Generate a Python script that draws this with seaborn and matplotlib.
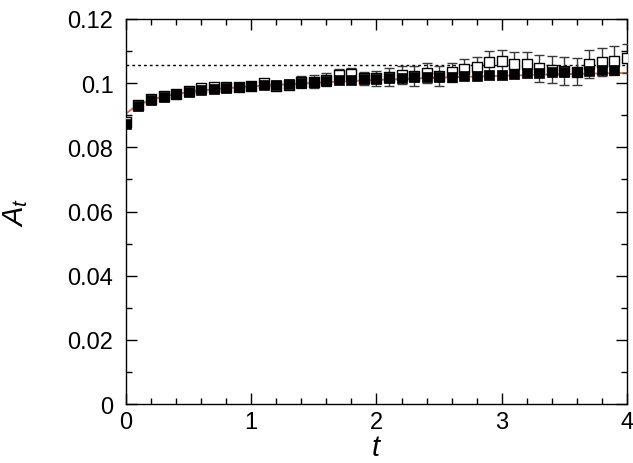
import numpy as np
import pandas as pd
import matplotlib
matplotlib.use("Agg")
import matplotlib.pyplot as plt
import seaborn as sns
from matplotlib.ticker import MultipleLocator

# ---- data ----
t_open = [round(0.1 * i, 1) for i in range(41)]
A_open = [0.0878, 0.0931, 0.0950, 0.0959, 0.0967, 0.0976, 0.0984, 0.0989, 0.0989, 0.0989,
          0.0991, 0.0999, 0.0992, 0.0994, 0.1004, 0.1004, 0.1011, 0.1024, 0.1028, 0.1015,
          0.1015, 0.1019, 0.1024, 0.1022, 0.1032, 0.1022, 0.1034, 0.1043, 0.1050, 0.1067,
          0.1069, 0.1060, 0.1059, 0.1047, 0.1042, 0.1038, 0.1036, 0.1060, 0.1066, 0.1070,
          0.1078]
err_open = [0.0003, 0.0003, 0.0004, 0.0004, 0.0005, 0.0005, 0.0006, 0.0006, 0.0007, 0.0007,
            0.0008, 0.0009, 0.0011, 0.0013, 0.0019, 0.0020, 0.0021, 0.0019, 0.0020, 0.0021,
            0.0024, 0.0027, 0.0028, 0.0031, 0.0031, 0.0031, 0.0030, 0.0031, 0.0031, 0.0034,
            0.0035, 0.0036, 0.0037, 0.0042, 0.0042, 0.0043, 0.0043, 0.0043, 0.0044, 0.0046,
            0.0045]

t_fill = [round(0.1 * i, 1) for i in range(40)]
A_fill = [0.0873, 0.0930, 0.0949, 0.0958, 0.0966, 0.0972, 0.0978, 0.0983, 0.0985, 0.0988,
          0.0990, 0.0995, 0.0995, 0.0997, 0.1001, 0.1003, 0.1006, 0.1009, 0.1010, 0.1012,
          0.1013, 0.1015, 0.1017, 0.1018, 0.1019, 0.1020, 0.1020, 0.1022, 0.1023, 0.1025,
          0.1026, 0.1029, 0.1031, 0.1031, 0.1034, 0.1036, 0.1036, 0.1038, 0.1040, 0.1042]

t_fit = [0.0, 0.05, 0.1, 0.2, 0.3, 0.4, 0.5, 0.7, 1.0, 1.5, 2.0, 2.5, 3.0, 3.5, 4.0]
A_fit = [0.0905, 0.0920, 0.0932, 0.0948, 0.0958, 0.0966, 0.0972, 0.0981, 0.0990, 0.1001,
         0.1010, 0.1017, 0.1023, 0.1028, 0.1032]

A_limit = 0.1055
x_ticks = [0, 1, 2, 3, 4]
y_ticks = [0, 0.02, 0.04, 0.06, 0.08, 0.1, 0.12]
y_ticklabels = ["0", "0.02", "0.04", "0.06", "0.08", "0.1", "0.12"]

# ---- style ----
sns.set_style("ticks")
plt.rcParams["font.family"] = ["Liberation Sans", "DejaVu Sans"]
plt.rcParams["mathtext.fontset"] = "custom"
plt.rcParams["mathtext.rm"] = "Liberation Sans"
plt.rcParams["mathtext.it"] = "Liberation Sans:italic"
for k in ["text.color", "axes.labelcolor", "xtick.color", "ytick.color",
          "xtick.labelcolor", "ytick.labelcolor"]:
    plt.rcParams[k] = "black"

fig = plt.figure(figsize=(6.33, 4.64), dpi=100)
ax = fig.add_axes([0.199, 0.127, 0.7915, 0.830])

df_fit = pd.DataFrame({"t": t_fit, "A": A_fit})
df_open = pd.DataFrame({"t": t_open, "A": A_open, "e": err_open})
df_fill = pd.DataFrame({"t": t_fill, "A": A_fill})

ax.axhline(A_limit, color="black", ls=(0, (2, 2.2)), lw=1.0, zorder=1)
sns.lineplot(data=df_fit, x="t", y="A", ax=ax, color="#e8643c", lw=1.3, zorder=2)

ax.errorbar(df_open["t"], df_open["A"], yerr=df_open["e"], fmt="none",
            ecolor="#3a3a3a", elinewidth=1.0, capsize=3.5, capthick=1.0, zorder=3)
sns.scatterplot(data=df_open, x="t", y="A", ax=ax, marker="s", s=55,
                facecolor="white", edgecolor="black", linewidth=1.0, zorder=4)
sns.scatterplot(data=df_fill, x="t", y="A", ax=ax, marker="s", s=60,
                color="black", edgecolor="black", linewidth=0.5, zorder=5)

ax.set_xlim(0, 4)
ax.set_ylim(0, 0.12)
ax.set_xticks(x_ticks)
ax.set_xticklabels([str(v) for v in x_ticks])
ax.set_yticks(y_ticks)
ax.set_yticklabels(y_ticklabels)
ax.xaxis.set_minor_locator(MultipleLocator(0.2))
ax.yaxis.set_minor_locator(MultipleLocator(0.01))
ax.tick_params(which="both", direction="in", top=True, right=True, width=1.0,
               labelsize=17, color="black", labelcolor="black")
ax.tick_params(which="major", length=8)
ax.tick_params(axis="x", which="major", pad=5)
ax.tick_params(axis="y", which="major", pad=9)
ax.tick_params(which="minor", length=4)
for s in ax.spines.values():
    s.set_linewidth(1.0)
    s.set_color("black")

ax.set_xlabel("$t$", fontsize=21, labelpad=0, color="black")
ax.set_ylabel("$A_t$", fontsize=21, labelpad=27, color="black")

fig.savefig("out.png", dpi=100)
